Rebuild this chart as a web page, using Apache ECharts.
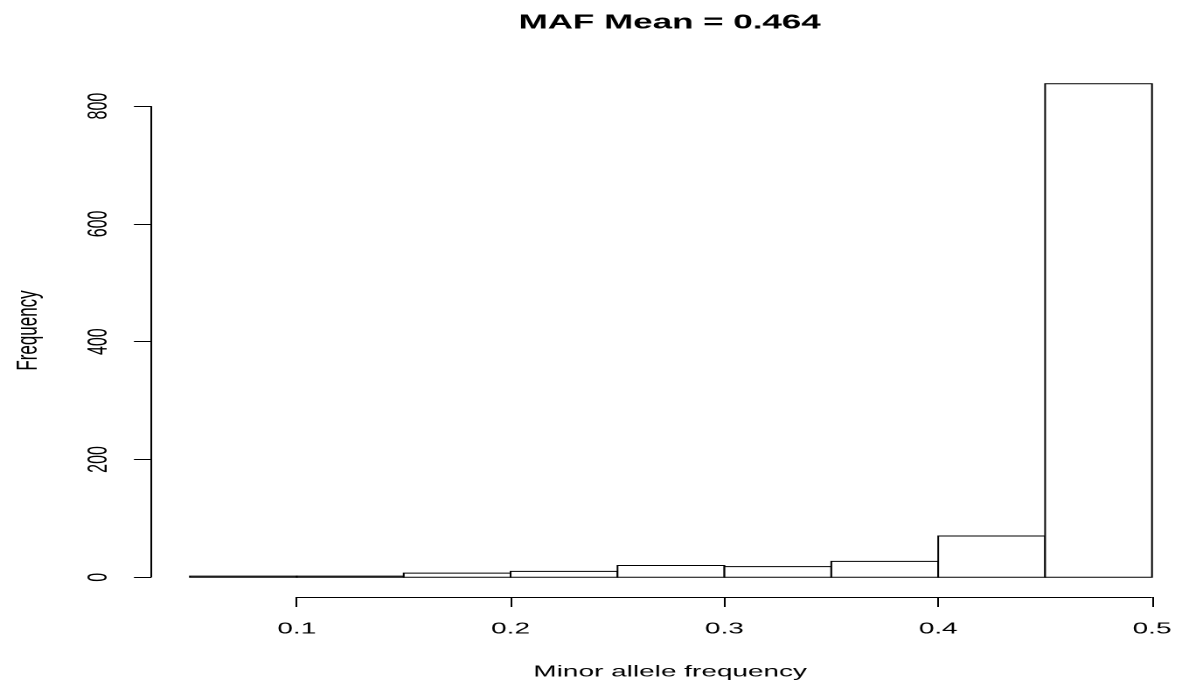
<!DOCTYPE html>
<html>
<head>
<meta charset="utf-8">
<script src="https://cdn.jsdelivr.net/npm/echarts@6/dist/echarts.min.js"></script>
<style>
html,body{margin:0;padding:0;background:#fff;overflow:hidden;}
#c{width:680px;height:683px;transform:scaleX(1.7485);transform-origin:0 0;}
</style>
</head>
<body>
<div id="c"></div>
<script>
// Histogram data
const binStart = [0.05, 0.10, 0.15, 0.20, 0.25, 0.30, 0.35, 0.40, 0.45];
const binEnd   = [0.10, 0.15, 0.20, 0.25, 0.30, 0.35, 0.40, 0.45, 0.50];
const counts   = [2, 2, 7, 10, 20, 18, 27, 70, 838];
const xTicks   = [0.1, 0.2, 0.3, 0.4, 0.5];
const yTicks   = [0, 200, 400, 600, 800];
const titleText = 'MAF Mean = 0.464';
const xName = 'Minor allele frequency';
const yName = 'Frequency';

const font = 'Liberation Sans, Arial, sans-serif';
const xMin = 0.032, xMax = 0.5173, yMin = -33.5, yMax = 871.5;

const chart = echarts.init(document.getElementById('c'), null, {renderer: 'canvas', devicePixelRatio: 2});
chart.setOption({
  animation: false,
  backgroundColor: '#fff',
  title: {
    text: titleText,
    left: 378,
    textAlign: 'center',
    top: 8,
    textStyle: {fontFamily: font, fontSize: 20, fontWeight: 'bold', color: '#000'}
  },
  grid: {left: 86.6, right: 0, top: 64, bottom: 86, containLabel: false, outerBoundsMode: 'none'},
  xAxis: {
    type: 'value', min: xMin, max: xMax,
    splitLine: {show: false},
    axisLine: {show: false, onZero: false},
    axisTick: {show: true, customValues: xTicks, length: 10, lineStyle: {color: '#000', width: 1}},
    axisLabel: {customValues: xTicks, margin: 24, fontFamily: font, fontSize: 16, color: '#000',
      formatter: v => String(Math.round(v * 10) / 10)},
    name: xName, nameLocation: 'middle', nameGap: 67,
    nameTextStyle: {fontFamily: font, fontSize: 16, color: '#000'}
  },
  yAxis: {
    type: 'value', min: yMin, max: yMax,
    splitLine: {show: false},
    axisLine: {show: false, onZero: false},
    axisTick: {show: true, customValues: yTicks, length: 10, lineStyle: {color: '#000', width: 1}},
    axisLabel: {customValues: yTicks, rotate: 90, margin: 22, fontFamily: font, fontSize: 16, color: '#000'},
    name: yName, nameLocation: 'middle', nameGap: 62, nameRotate: 90,
    nameTextStyle: {fontFamily: font, fontSize: 17, color: '#000'}
  },
  series: [
    {
      type: 'custom',
      clip: false,
      data: binStart.map((s, i) => [s, binEnd[i], counts[i]]),
      renderItem: function (params, api) {
        const p0 = api.coord([api.value(0), api.value(2)]);
        const p1 = api.coord([api.value(1), 0]);
        return {
          type: 'rect',
          shape: {x: p0[0], y: p0[1], width: p1[0] - p0[0], height: p1[1] - p0[1]},
          style: {fill: '#fff', stroke: '#000', lineWidth: 1}
        };
      }
    },
    {
      type: 'line',
      data: [],
      clip: false,
      markLine: {
        silent: true,
        symbol: 'none',
        label: {show: false},
        lineStyle: {color: '#000', width: 1, type: 'solid'},
        data: [
          [{coord: [xTicks[0], yMin]}, {coord: [xTicks[xTicks.length - 1], yMin]}],
          [{coord: [xMin, yTicks[0]]}, {coord: [xMin, yTicks[yTicks.length - 1]]}]
        ]
      }
    }
  ]
});
</script>
</body>
</html>
